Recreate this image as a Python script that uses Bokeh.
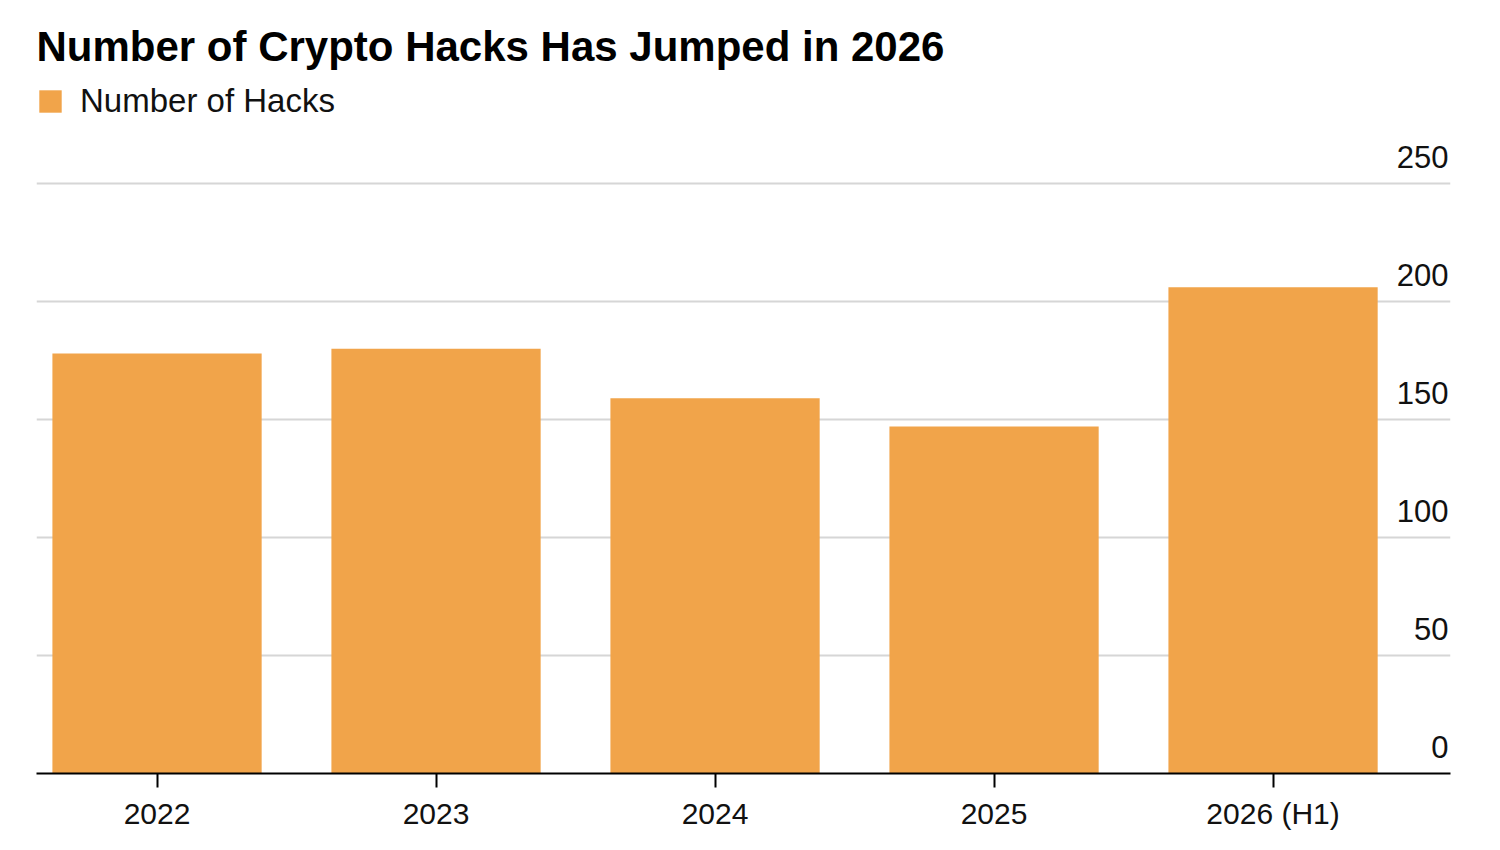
from bokeh.plotting import figure
from bokeh.models import Range1d, FixedTicker, Legend, LegendItem, ColumnDataSource
from bokeh.embed import file_html
from bokeh.resources import INLINE
from bokeh.core.properties import value
import numpy as np

categories = ["2022", "2023", "2024", "2025", "2026 (H1)"]
hacks = [178, 180, 159, 147, 206]
y_ticks = [0, 50, 100, 150, 200, 250]
y_tick_labels = ["0", "50", "100", "150", "200", "250"]

FONT = "Liberation Sans"
BAR = "#F1A44A"

xs = np.arange(len(categories))
x_start, x_end = -0.432, len(categories) - 1 + 0.636

p = figure(width=1484, height=834, output_backend="svg", toolbar_location=None,
           x_range=Range1d(x_start, x_end), y_range=Range1d(0, 292.8),
           min_border_left=36, min_border_right=34, min_border_bottom=61, min_border_top=82)

p.title.text = "Number of Crypto Hacks Has Jumped in 2026"
p.title.text_font = FONT
p.title.text_font_size = "42px"
p.title.text_font_style = "bold"
p.title.text_color = "#000000"
p.title.offset = 0
p.title.standoff = 26

src = ColumnDataSource(dict(x=xs, top=hacks))
bars = p.vbar(x="x", top="top", bottom=0, width=0.75, source=src,
              fill_color=BAR, line_color=None)

legend = Legend(items=[LegendItem(label="Number of Hacks", renderers=[bars])],
                location="top_left", orientation="horizontal",
                label_text_font=FONT, label_text_font_size="33px", label_text_color="#111111",
                glyph_width=28, glyph_height=28, label_standoff=16,
                border_line_color=None, background_fill_alpha=0,
                padding=0, margin=0, spacing=0)
p.add_layout(legend, "center")

# grid
p.xgrid.visible = False
p.ygrid.ticker = FixedTicker(ticks=y_ticks[1:])
p.ygrid.grid_line_color = "#d6d6d6"
p.ygrid.grid_line_width = 2

# y axis hidden; labels drawn above the grid lines
p.yaxis.visible = False
p.text(x=[x_end] * len(y_ticks), y=y_ticks, text=y_tick_labels,
       text_align="right", text_baseline="alphabetic", x_offset=-2, y_offset=-27,
       text_font=value(FONT), text_font_size="31px", text_color="#111111")

# x axis
xa = p.xaxis[0]
xa.ticker = FixedTicker(ticks=list(xs))
xa.major_label_overrides = {int(i): c for i, c in zip(xs, categories)}
xa.axis_line_color = "#000000"
xa.axis_line_width = 2
xa.major_tick_line_color = "#000000"
xa.major_tick_line_width = 2
xa.major_tick_out = 14
xa.major_tick_in = 0
xa.minor_tick_line_color = None
xa.major_label_standoff = 9
xa.major_label_text_font = FONT
xa.major_label_text_font_size = "30px"
xa.major_label_text_color = "#111111"

p.outline_line_color = None
p.background_fill_color = "white"
p.border_fill_color = "white"

open("out.html", "w").write(file_html(p, INLINE))
